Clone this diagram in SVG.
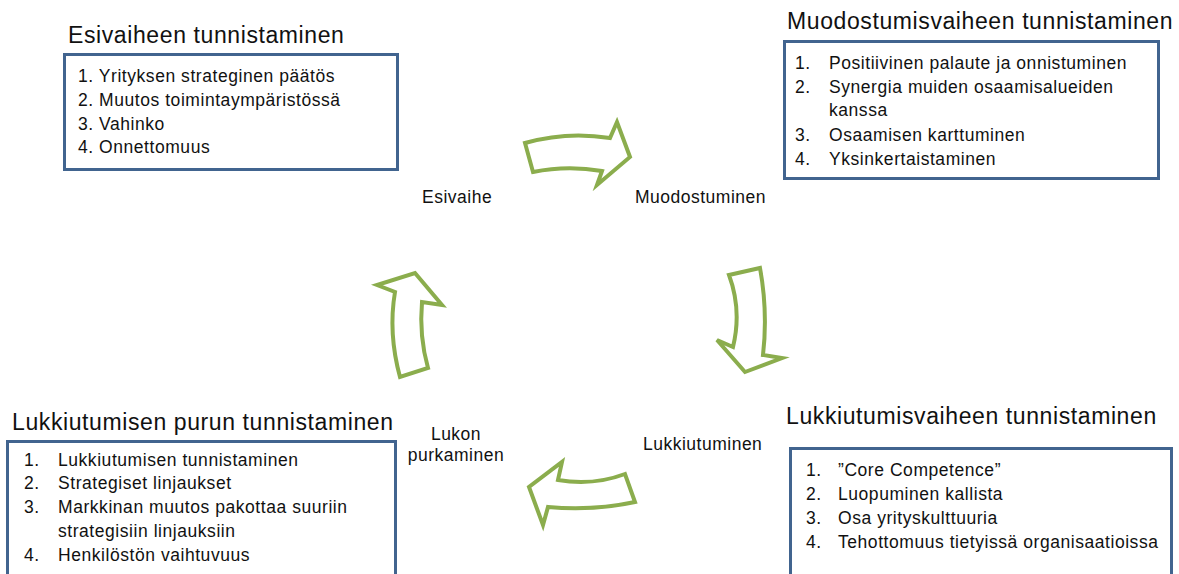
<svg xmlns="http://www.w3.org/2000/svg" width="1179" height="574" viewBox="0 0 1179 574">
<style>
.title{font-family:"Liberation Sans",Arial,sans-serif;font-size:23px;letter-spacing:0.6px;fill:#111;}
.item{font-family:"Liberation Sans",Arial,sans-serif;font-size:17.5px;letter-spacing:0.55px;fill:#111;}
.lbl{font-family:"Liberation Sans",Arial,sans-serif;font-size:17.5px;letter-spacing:0.5px;fill:#111;}
.box{fill:#fff;stroke:#41648f;stroke-width:3;}
.arr{fill:#fff;stroke:#8bad4d;stroke-width:4;stroke-linejoin:miter;}
</style>
<rect width="1179" height="574" fill="#fff"/>
<g id="esivaihe-node">
<text class="title" x="68" y="43">Esivaiheen tunnistaminen</text>
<rect class="box" x="64.5" y="54.5" width="333" height="115"/>
<text class="item" x="78" y="82">1. Yrityksen strateginen päätös</text>
<text class="item" x="78" y="106">2. Muutos toimintaympäristössä</text>
<text class="item" x="78" y="130">3. Vahinko</text>
<text class="item" x="78" y="153">4. Onnettomuus</text>
</g>
<g id="muodostuminen-node">
<text class="title" x="787" y="29">Muodostumisvaiheen tunnistaminen</text>
<rect class="box" x="784.5" y="41.5" width="374" height="137"/>
<text class="item" x="795" y="69">1.</text><text class="item" x="829" y="69">Positiivinen palaute ja onnistuminen</text>
<text class="item" x="795" y="93">2.</text><text class="item" x="829" y="93">Synergia muiden osaamisalueiden</text>
<text class="item" x="829" y="116">kanssa</text>
<text class="item" x="795" y="141">3.</text><text class="item" x="829" y="141">Osaamisen karttuminen</text>
<text class="item" x="795" y="165">4.</text><text class="item" x="829" y="165">Yksinkertaistaminen</text>
</g>
<g id="purku-node">
<text class="title" x="12" y="430">Lukkiutumisen purun tunnistaminen</text>
<rect class="box" x="7.5" y="441.5" width="388" height="140"/>
<text class="item" x="24" y="466">1.</text><text class="item" x="58" y="466">Lukkiutumisen tunnistaminen</text>
<text class="item" x="24" y="489">2.</text><text class="item" x="58" y="489">Strategiset linjaukset</text>
<text class="item" x="24" y="513">3.</text><text class="item" x="58" y="513">Markkinan muutos pakottaa suuriin</text>
<text class="item" x="58" y="537">strategisiin linjauksiin</text>
<text class="item" x="24" y="561">4.</text><text class="item" x="58" y="561">Henkilöstön vaihtuvuus</text>
</g>
<g id="lukkiutuminen-node">
<text class="title" x="786" y="424">Lukkiutumisvaiheen tunnistaminen</text>
<rect class="box" x="790.5" y="448.5" width="381" height="140"/>
<text class="item" x="806" y="476">1.</text><text class="item" x="838" y="476">”Core Competence”</text>
<text class="item" x="806" y="500">2.</text><text class="item" x="838" y="500">Luopuminen kallista</text>
<text class="item" x="806" y="524">3.</text><text class="item" x="838" y="524">Osa yrityskulttuuria</text>
<text class="item" x="806" y="548">4.</text><text class="item" x="838" y="548">Tehottomuus tietyissä organisaatioissa</text>
</g>
<g id="phase-labels">
<text class="lbl" x="422" y="203">Esivaihe</text>
<text class="lbl" x="635" y="203">Muodostuminen</text>
<text class="lbl" x="643" y="450">Lukkiutuminen</text>
<text class="lbl" x="456" y="440" text-anchor="middle">Lukon</text>
<text class="lbl" x="456" y="461" text-anchor="middle">purkaminen</text>
</g>
<g id="connectors">
<path class="arr" d="M525,143 Q567,131 610,138 L617,122 L630,157 L597,185 L602,171 Q567,165 533,172 Z"/>
<path class="arr" d="M760,268 Q768,312 763,355 L782,358 L745,372 L717,340 L733,347 Q742,310 729,275 Z"/>
<path class="arr" d="M635,502 Q593,511 548,507 L543,525 L529,487 L562,462 L558,480 Q593,486 625,474 Z"/>
<path class="arr" d="M400,377 Q388,333 395,292 L377,285 L415,273 L442,305 L422,302 Q419,336 428,368 Z"/>
</g>
</svg>
